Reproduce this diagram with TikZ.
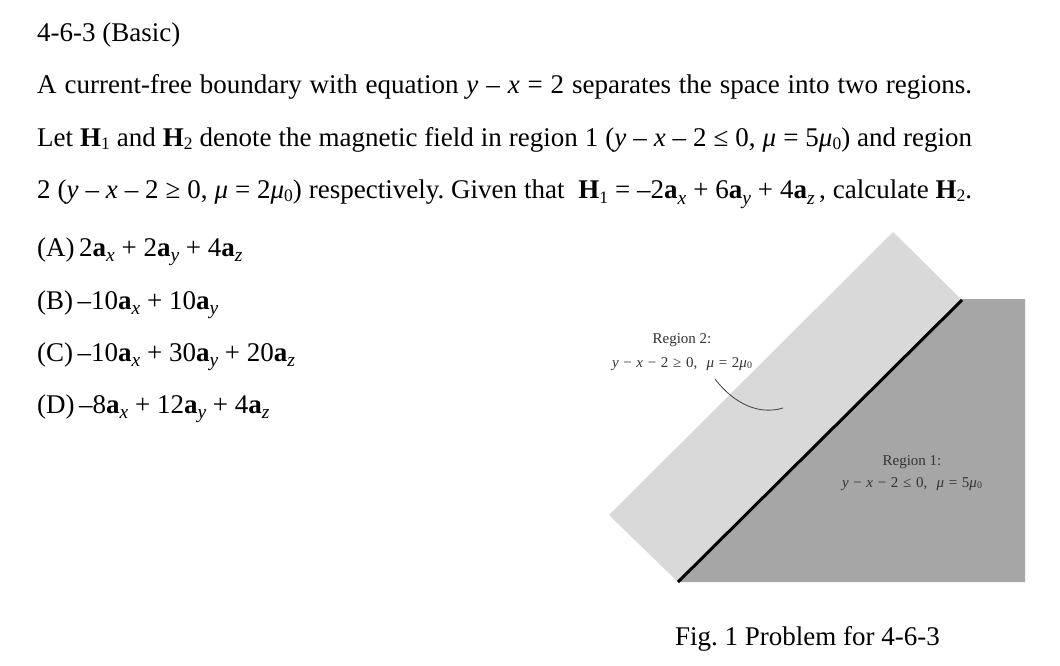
\documentclass[tikz,border=0pt]{standalone}
\usepackage{fontspec}
\setmainfont{Liberation Serif}
\frenchspacing
\newcommand\va[1]{\textbf{a}\raisebox{-0.45ex}{\fontsize{19.5}{19.5}\selectfont\itshape #1}}
\newcommand\ms[1]{\raisebox{-0.4ex}{\fontsize{17.5}{17.5}\selectfont #1}}
\newcommand\ts[1]{\raisebox{-0.25ex}{\fontsize{17.5}{17.5}\selectfont #1}}
\newcommand\jline[1]{\makebox[935pt][s]{#1}}
\begin{document}
\begin{tikzpicture}[x=1pt,y=-1pt,
  txt/.style={anchor=base west,inner sep=0pt,font=\fontsize{27}{31}\selectfont},
  lbl/.style={anchor=base,inner sep=0pt,text=black!80,font=\fontsize{15}{17}\selectfont},
  lightreg/.style={fill=black!15,draw=none},
  darkreg/.style={fill=black!35,draw=none},
  bound/.style={line width=3pt,black},
  pointer/.style={line width=0.8pt,black!75}]
\useasboundingbox[fill=white] (0,0) rectangle (1060,665);
% text
\node[txt] (t0) at (37,41) {4-6-3 (Basic)};
\node[txt] (t1) at (37,93.5) {\jline{A current-free boundary with equation \textit{y} – \textit{x} = 2 separates the space into two regions.}};
\node[txt] (t2) at (37,146) {\jline{Let \textbf{H}\ts{1} and \textbf{H}\ts{2} denote the magnetic field in region 1 (\textit{y} – \textit{x} – 2 ≤ 0, \textit{μ} = 5\textit{μ}\ts{0}) and region}};
\node[txt] (t3) at (37,198.5) {\jline{2 (\textit{y} – \textit{x} – 2 ≥ 0, \textit{μ} = 2\textit{μ}\ts{0}) respectively. Given that~~\textbf{H}\ms{1} = –2\va{x} + 6\va{y} + 4\va{z}\,, calculate \textbf{H}\ts{2}.}};
\node[txt] (oa) at (37,256) {(A)\,2\va{x} + 2\va{y} + 4\va{z}};
\node[txt] (ob) at (37,309) {(B)\,–10\va{x} + 10\va{y}};
\node[txt] (oc) at (37,361) {(C)\,–10\va{x} + 30\va{y} + 20\va{z}};
\node[txt] (od) at (37,413) {(D)\,–8\va{x} + 12\va{y} + 4\va{z}};
% figure
\fill[lightreg] (893,232) -- (962,300) -- (678,582) -- (609,515) -- cycle;
\fill[darkreg] (678,582) -- (962,299) -- (1025,299) -- (1025,582) -- cycle;
\coordinate (b1) at (678,582);
\coordinate (b2) at (962,300);
\draw[bound] (b1) -- (b2);
\node[lbl] (r2a) at (682,343) {Region 2:};
\node[lbl] (r2b) at (682,367) {\makebox[140pt][s]{\textit{y} − \textit{x} − 2 ≥ 0,~ \textit{μ} = 2\textit{μ}\raisebox{-0.2ex}{\fontsize{10}{10}\selectfont 0}}};
\node[lbl] (r1a) at (912,465) {Region 1:};
\node[lbl] (r1b) at (912,487) {\makebox[140pt][s]{\textit{y} − \textit{x} − 2 ≤ 0,~ \textit{μ} = 5\textit{μ}\raisebox{-0.2ex}{\fontsize{10}{10}\selectfont 0}}};
\coordinate (p1) at (715,379);
\coordinate (p2) at (783,408);
\draw[pointer] (p1) .. controls (735,405) and (760,415) .. (p2);
\node[txt,anchor=base] (cap) at (807.5,645) {Fig. 1 Problem for 4-6-3};
\end{tikzpicture}
\end{document}
